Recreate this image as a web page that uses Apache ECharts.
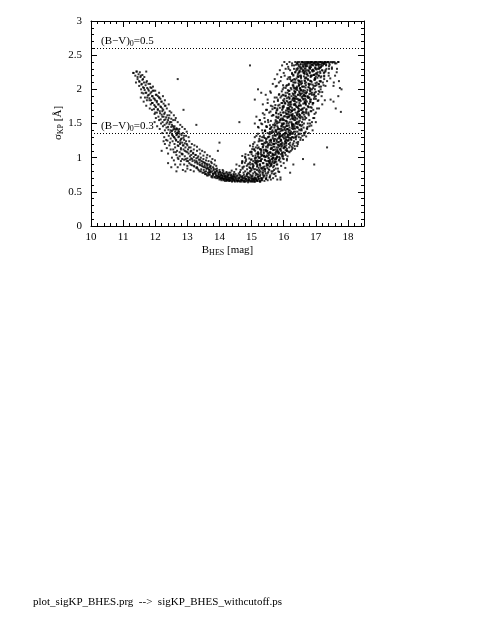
<!DOCTYPE html>
<html>
<head>
<meta charset="utf-8">
<script src="https://cdn.jsdelivr.net/npm/echarts@6/dist/echarts.min.js"></script>
<style>
  html, body { margin: 0; padding: 0; background: #fff; }
  #main { width: 491px; height: 635px; }
</style>
</head>
<body>
<div id="main"></div>
<script>
  // B_HES [mag] vs sigma_KP [A]
  var leftBranch = [
    [11.32,2.24],[11.42,2.26],[11.45,2.18],[11.5,2.12],[11.55,2.2],[11.58,2.08],[11.62,2.15],[11.65,2.02],[11.7,1.95],[11.72,2.1],
    [11.75,1.88],[11.78,2.0],[11.8,1.92],[11.82,1.84],[11.85,2.03],[11.88,1.96],[11.9,1.8],[11.92,1.9],[11.95,1.98],[11.98,1.86],
    [12.0,1.75],[12.02,1.92],[12.05,1.83],[12.08,1.7],[12.1,1.78],[12.12,1.88],[12.15,1.65],[12.18,1.74],[12.2,1.82],[12.22,1.6],
    [12.25,1.7],[12.28,1.55],[12.3,1.66],[12.32,1.76],[12.35,1.5],[12.38,1.62],[12.4,1.45],[12.42,1.58],[12.45,1.68],[12.48,1.4],
    [12.5,1.52],[12.52,1.35],[12.55,1.46],[12.58,1.3],[12.6,1.42],[12.62,1.55],[12.65,1.25],[12.68,1.36],[12.7,1.18],[12.72,1.3],
    [12.75,1.42],[12.78,1.22],[12.8,1.12],[12.82,1.28],[12.85,1.05],[12.88,1.18],[12.9,1.32],[12.92,1.1],[12.95,0.98],[12.98,1.2],
    [13.0,1.08],[13.02,0.95],[13.05,1.15],[13.08,1.02],[13.1,0.9],[13.12,1.1],[13.15,0.98],[13.18,1.06],[13.2,0.88],[13.22,0.96],
    [13.25,1.04],[13.28,0.85],[13.3,0.93],[13.32,1.0],[13.35,0.82],[13.38,0.9],[13.4,0.97],[13.42,0.8],[13.45,0.88],[13.48,0.94],
    [13.5,0.78],[13.52,0.86],[13.55,0.92],[13.58,0.76],[13.6,0.84],[13.62,0.9],[13.65,0.74],[13.68,0.82],[13.7,0.78],[13.72,0.88],
    [13.75,0.72],[13.78,0.8],[13.8,0.76],[13.82,0.84],[13.85,0.71],[13.88,0.78],[13.9,0.74],[13.92,0.81],[13.95,0.7],[13.98,0.76],
    [14.0,0.72],[14.02,0.79],[14.05,0.69],[14.08,0.74],[14.1,0.7],[14.12,0.77],[14.15,0.68],[14.18,0.72]
  ];
  var floorPoints = [
    [13.9,0.7],[13.95,0.73],[14.0,0.68],[14.05,0.75],[14.08,0.7],[14.12,0.67],[14.16,0.73],[14.2,0.69],[14.22,0.66],[14.25,0.72],
    [14.28,0.68],[14.3,0.75],[14.33,0.67],[14.36,0.7],[14.4,0.66],[14.42,0.73],[14.45,0.68],[14.48,0.65],[14.5,0.71],[14.53,0.67],
    [14.56,0.74],[14.58,0.66],[14.6,0.69],[14.64,0.65],[14.66,0.72],[14.7,0.67],[14.74,0.7],[14.76,0.65],[14.8,0.68],[14.84,0.66],
    [14.88,0.72],[14.92,0.67],[14.96,0.65],[14.99,0.7],[15.02,0.66],[15.05,0.69],[15.09,0.65],[15.12,0.68],[15.17,0.66],[15.21,0.69],
    [15.26,0.65],[15.3,0.67]
  ];
  var rightLower = [
    [14.55,0.66],[14.62,0.7],[14.68,0.67],[14.72,0.73],[14.78,0.65],[14.82,0.69],[14.86,0.76],[14.9,0.66],[14.94,0.71],[14.97,0.8],
    [15.0,0.68],[15.03,0.74],[15.06,0.65],[15.08,0.83],[15.1,0.7],[15.13,0.77],[15.16,0.67],[15.18,0.88],[15.2,0.72],[15.22,0.8],
    [15.25,0.66],[15.27,0.75],[15.3,0.85],[15.32,0.7],[15.35,0.78],[15.37,0.92],[15.4,0.74],[15.42,0.83],[15.45,0.69],[15.47,0.88],
    [15.5,0.77],[15.52,0.95],[15.55,0.82],[15.57,0.72],[15.6,0.9],[15.62,0.8],[15.65,0.98],[15.67,0.86],[15.7,0.76],[15.72,0.93],
    [15.75,0.84],[15.78,1.0],[15.8,0.9],[15.83,0.8],[15.86,0.97],[15.9,0.68],[15.92,0.88],[15.95,1.02],[16.0,0.92],[16.05,0.85],
    [16.1,0.98],[16.2,0.78],[16.3,0.9],[15.15,0.95],[15.05,0.9],[14.95,0.85],[15.25,1.0]
  ];
  var rightMiddle = [
    [15.0,1.05],[15.08,1.12],[15.12,1.0],[15.18,1.18],[15.2,1.08],[15.25,1.25],[15.28,1.12],[15.3,1.02],[15.33,1.3],[15.35,1.16],
    [15.38,1.06],[15.4,1.22],[15.42,1.4],[15.45,1.1],[15.47,1.28],[15.5,1.02],[15.52,1.18],[15.55,1.35],[15.57,1.08],[15.6,1.25],
    [15.62,1.45],[15.64,1.14],[15.66,1.32],[15.68,1.04],[15.7,1.2],[15.72,1.5],[15.74,1.12],[15.76,1.38],[15.78,1.26],[15.8,1.08],
    [15.82,1.44],[15.84,1.18],[15.86,1.32],[15.88,1.55],[15.9,1.12],[15.92,1.25],[15.94,1.4],[15.96,1.06],[15.98,1.3],[16.0,1.5],
    [16.02,1.16],[16.04,1.36],[16.06,1.24],[16.08,1.6],[16.1,1.1],[16.12,1.42],[16.14,1.3],[16.16,1.2],[16.18,1.52],[16.2,1.36],
    [16.22,1.66],[16.24,1.26],[16.26,1.46],[16.28,1.14],[16.3,1.58],[16.32,1.38],[16.34,1.7],[16.36,1.3],[16.38,1.5],[16.4,1.22],
    [16.42,1.62],[16.44,1.44],[16.46,1.34],[16.48,1.68],[16.5,1.54],[16.52,1.4],[16.55,1.6],[16.58,1.48],[16.6,1.66],[16.63,1.36],
    [16.66,1.56],[16.7,1.7],[16.74,1.45],[16.78,1.62],[16.82,1.5],[16.86,1.68],[16.9,1.4],[16.95,1.58],[17.0,1.52],
    [15.1,1.3],[15.2,1.45],[15.25,1.55],[15.35,1.65],[15.15,1.6],[15.3,1.5],[15.45,1.7],[15.05,1.2],[14.95,1.08]
  ];
  var rightUpper = [
    [15.5,1.8],[15.6,1.95],[15.65,1.75],[15.72,1.88],[15.78,2.05],[15.8,1.72],[15.85,1.92],[15.9,2.12],[15.93,1.8],[15.97,2.0],
    [16.0,1.76],[16.03,2.2],[16.06,1.9],[16.1,2.06],[16.12,1.82],[16.15,2.3],[16.18,1.98],[16.2,2.15],[16.23,1.78],[16.26,2.35],
    [16.28,1.94],[16.3,2.1],[16.33,1.86],[16.36,2.25],[16.38,2.02],[16.4,1.74],[16.42,2.38],[16.44,1.92],[16.46,2.18],[16.48,2.06],
    [16.5,1.84],[16.52,2.3],[16.54,1.98],[16.56,2.12],[16.58,2.4],[16.6,1.9],[16.62,2.24],[16.64,2.04],[16.66,2.36],[16.68,1.8],
    [16.7,2.16],[16.72,1.96],[16.74,2.4],[16.76,2.28],[16.78,2.08],[16.8,1.88],[16.82,2.34],[16.84,2.2],[16.86,2.4],[16.88,2.0],
    [16.9,2.26],[16.92,2.38],[16.94,1.92],[16.96,2.14],[16.98,2.32],[17.0,2.4],[17.02,2.06],[17.04,2.22],[17.06,2.36],[17.08,1.84],
    [17.1,2.3],[17.12,2.4],[17.15,2.12],[17.18,2.34],[17.2,1.96],[17.22,2.38],[17.25,2.24],[17.28,2.4],[17.3,2.05],[17.33,2.3],
    [17.36,2.4],[17.4,2.2],[17.43,2.36],[17.46,1.85],[17.5,2.3],[17.53,2.4],[17.56,2.1],[17.6,2.38],[17.65,2.25],[17.7,2.4],
    [17.75,2.02]
  ];
  // denser fill, flat x,y lists per region
  var floorFill = [
    14.02,0.70, 14.06,0.67, 14.1,0.73, 14.13,0.69, 14.17,0.66, 14.2,0.71, 14.23,0.68, 14.26,0.74, 14.29,0.66, 14.31,0.7,
    14.34,0.67, 14.37,0.72, 14.39,0.65, 14.42,0.69, 14.44,0.76, 14.47,0.66, 14.49,0.7, 14.51,0.68, 14.54,0.73, 14.56,0.65,
    14.58,0.67, 14.61,0.71, 14.63,0.66, 14.65,0.74, 14.67,0.68, 14.69,0.65, 14.71,0.7, 14.73,0.67, 14.75,0.78, 14.77,0.66,
    14.79,0.72, 14.81,0.65, 14.83,0.69, 14.85,0.75, 14.87,0.67, 14.89,0.64, 14.91,0.71, 14.93,0.68, 14.95,0.8, 14.97,0.66,
    14.99,0.73, 15.01,0.65, 15.03,0.69, 15.05,0.77, 15.07,0.67, 15.09,0.71, 15.11,0.65, 15.13,0.74, 15.15,0.68, 15.17,0.82,
    15.19,0.66, 15.21,0.72, 15.23,0.69, 15.25,0.78, 15.27,0.65, 15.29,0.7, 15.31,0.84, 15.33,0.67, 15.35,0.75, 15.37,0.71,
    15.4,0.66, 15.42,0.8, 15.45,0.69, 15.47,0.74, 15.5,0.67, 15.53,0.83, 15.56,0.71, 15.6,0.68, 15.63,0.77, 15.67,0.7,
    15.7,0.82, 15.75,0.73, 15.8,0.68, 15.86,0.79, 15.9,0.71,
    14.3,0.78, 14.38,0.81, 14.46,0.79, 14.52,0.83, 14.6,0.77, 14.66,0.82, 14.72,0.84, 14.8,0.8, 14.86,0.83, 14.92,0.77,
    15.0,0.82, 15.04,0.85, 15.1,0.79, 15.16,0.76, 15.22,0.85, 15.28,0.8, 15.34,0.78, 15.39,0.84, 15.44,0.77, 15.52,0.79,
    14.45,0.72, 14.55,0.7, 14.62,0.75, 14.7,0.72, 14.78,0.7, 14.84,0.73, 14.9,0.69, 14.96,0.75, 15.02,0.72, 15.08,0.68,
    15.14,0.7, 15.2,0.75, 15.26,0.73, 15.32,0.69, 15.38,0.73, 15.46,0.71, 15.58,0.74, 15.66,0.8, 15.74,0.77, 15.82,0.84,
    14.24,0.77, 14.36,0.75, 14.5,0.76, 14.64,0.79, 14.76,0.75, 14.88,0.78, 14.98,0.84, 15.12,0.83, 15.24,0.82, 15.36,0.81
  ];
  var riseFill = [
    14.62,0.88, 14.7,0.92, 14.76,0.87, 14.82,0.95, 14.88,0.9, 14.93,0.86, 14.98,0.97, 15.02,0.91, 15.06,0.88, 15.1,0.99,
    15.13,0.93, 15.17,0.87, 15.2,1.02, 15.23,0.95, 15.26,0.9, 15.29,1.05, 15.32,0.98, 15.35,0.92, 15.38,1.08, 15.4,0.87,
    15.43,1.01, 15.46,0.95, 15.49,1.1, 15.51,0.89, 15.54,1.04, 15.57,0.97, 15.6,1.13, 15.62,0.91, 15.65,1.06, 15.68,1.0,
    15.71,1.16, 15.73,0.94, 15.76,1.09, 15.79,1.02, 15.82,1.19, 15.85,0.96, 15.88,1.12, 15.91,1.05, 15.94,1.2, 15.97,0.99,
    16.0,1.14, 16.04,1.07, 16.08,1.18, 16.12,1.02, 16.17,1.15, 16.22,1.1, 16.28,1.19, 16.35,1.13, 16.42,1.17,
    14.8,1.0, 14.9,1.04, 15.0,1.08, 15.08,1.12, 15.15,1.06, 15.22,1.15, 15.3,1.12, 15.37,1.18, 15.45,1.16, 15.52,1.2,
    15.05,0.95, 15.12,1.03, 15.18,0.96, 15.25,1.0, 15.33,1.03, 15.41,0.97, 15.47,1.03, 15.55,0.93, 15.58,1.07, 15.63,0.98,
    15.67,1.11, 15.72,1.04, 15.77,0.99, 15.8,1.12, 15.84,1.06, 15.87,1.17, 15.92,1.1, 15.96,1.04, 16.02,1.19, 16.06,1.11,
    14.72,0.86, 14.85,0.88, 14.95,0.93, 15.04,0.87, 15.15,0.91, 15.27,0.88, 15.36,0.86, 15.48,0.9, 15.6,0.88, 15.7,0.92,
    15.78,0.9, 15.9,0.94, 16.0,0.98, 16.1,0.96, 15.53,0.99, 15.66,0.95, 15.74,1.07, 15.86,1.01, 15.99,1.08, 16.15,1.09,
    15.28,0.95, 15.39,1.02, 15.5,1.06, 15.61,1.02, 15.83,1.15, 15.93,1.16, 16.1,1.13, 16.25,1.16, 15.44,1.12, 15.35,1.15
  ];
  var midFill = [
    15.62,1.22, 15.7,1.25, 15.76,1.21, 15.81,1.28, 15.85,1.23, 15.89,1.31, 15.92,1.26, 15.95,1.22, 15.98,1.34, 16.01,1.28,
    16.04,1.24, 16.07,1.37, 16.1,1.3, 16.13,1.25, 16.16,1.4, 16.19,1.33, 16.22,1.27, 16.25,1.43, 16.28,1.35, 16.31,1.29,
    16.34,1.46, 16.37,1.38, 16.4,1.32, 16.44,1.49, 16.48,1.41, 16.52,1.35, 16.57,1.52, 16.62,1.44, 16.68,1.38, 16.75,1.5,
    15.72,1.33, 15.78,1.37, 15.84,1.42, 15.88,1.35, 15.93,1.46, 15.97,1.4, 16.0,1.5, 16.03,1.43, 16.06,1.54, 16.09,1.47,
    16.12,1.58, 16.15,1.5, 16.18,1.44, 16.21,1.56, 16.24,1.52, 16.27,1.6, 16.3,1.48, 16.33,1.55, 16.36,1.59, 16.39,1.51,
    16.42,1.57, 16.46,1.53, 16.5,1.59, 16.55,1.46, 16.6,1.56, 16.66,1.6, 16.72,1.43, 16.8,1.55, 16.86,1.47, 16.92,1.58,
    15.3,1.25, 15.38,1.3, 15.45,1.27, 15.5,1.36, 15.55,1.31, 15.58,1.42, 15.63,1.38, 15.67,1.48, 15.71,1.44, 15.75,1.55,
    15.79,1.5, 15.83,1.58, 15.87,1.52, 15.91,1.57, 15.96,1.55, 16.04,1.35, 16.08,1.26, 16.14,1.34, 16.2,1.22, 16.26,1.3,
    16.32,1.24, 16.38,1.27, 16.45,1.23, 16.53,1.29, 16.6,1.26, 16.7,1.31, 16.78,1.36, 15.15,1.32, 15.22,1.44, 15.1,1.5,
    15.26,1.55, 15.33,1.49, 15.4,1.58, 15.47,1.45, 15.52,1.52, 15.42,1.39, 15.35,1.36, 15.6,1.25, 15.66,1.29, 15.9,1.24,
    16.02,1.21, 16.11,1.42, 16.17,1.29, 16.23,1.38, 16.29,1.42, 16.35,1.34, 16.41,1.45, 16.47,1.3, 16.56,1.4, 16.64,1.33,
    15.74,1.4, 15.8,1.46, 15.86,1.29, 15.94,1.32, 15.99,1.45, 16.05,1.3, 16.16,1.47, 16.26,1.48, 16.43,1.38, 16.51,1.48
  ];
  var upperFill = [
    15.92,1.62, 15.98,1.66, 16.03,1.61, 16.07,1.69, 16.1,1.64, 16.13,1.72, 16.16,1.67, 16.19,1.62, 16.22,1.75, 16.25,1.69,
    16.28,1.64, 16.31,1.78, 16.34,1.71, 16.37,1.66, 16.4,1.81, 16.43,1.74, 16.46,1.68, 16.49,1.84, 16.52,1.77, 16.55,1.7,
    16.58,1.87, 16.61,1.79, 16.64,1.73, 16.68,1.9, 16.72,1.82, 16.76,1.75, 16.8,1.93, 16.85,1.85, 16.9,1.78, 16.96,1.95,
    16.0,1.74, 16.05,1.79, 16.09,1.83, 16.14,1.77, 16.18,1.86, 16.21,1.81, 16.24,1.9, 16.27,1.84, 16.3,1.93, 16.33,1.87,
    16.36,1.96, 16.39,1.89, 16.42,1.99, 16.45,1.92, 16.48,1.97, 16.51,1.91, 16.54,1.99, 16.57,1.94, 16.6,1.97, 16.63,1.92,
    16.66,1.98, 16.7,1.95, 16.74,1.99, 16.78,1.88, 16.83,1.97, 16.88,1.92, 16.94,1.86, 17.0,1.9, 17.06,1.83, 17.12,1.96,
    15.4,1.63, 15.48,1.7, 15.55,1.66, 15.6,1.76, 15.65,1.71, 15.7,1.82, 15.74,1.77, 15.78,1.88, 15.82,1.83, 15.86,1.93,
    15.9,1.88, 15.94,1.97, 15.97,1.92, 15.5,1.85, 15.35,1.78, 15.44,1.92, 15.58,1.97, 15.68,1.62, 15.76,1.66, 15.84,1.64,
    16.5,1.62, 16.57,1.65, 16.63,1.63, 16.7,1.67, 16.77,1.64, 16.84,1.68, 16.92,1.7, 17.0,1.66, 17.1,1.72, 17.2,1.78,
    17.28,1.84, 17.18,1.9, 16.12,1.95, 16.06,1.91, 16.02,1.86, 15.96,1.8, 15.88,1.73, 15.8,1.7, 15.72,1.73, 16.15,1.6,
    16.24,1.62, 16.33,1.61, 16.41,1.63, 16.47,1.76, 16.53,1.83, 16.59,1.72, 16.65,1.81, 16.71,1.71, 16.79,1.79, 16.87,1.73,
    16.2,1.7, 16.26,1.73, 16.32,1.83, 16.38,1.76, 16.44,1.86, 16.56,1.89, 16.62,1.86, 16.69,1.84, 16.75,1.9, 16.82,1.82
  ];
  var topFill = [
    16.22,2.02, 16.28,2.06, 16.33,2.01, 16.37,2.1, 16.41,2.04, 16.45,2.13, 16.48,2.07, 16.51,2.02, 16.54,2.16, 16.57,2.09,
    16.6,2.04, 16.63,2.19, 16.66,2.12, 16.69,2.06, 16.72,2.22, 16.75,2.15, 16.78,2.08, 16.81,2.25, 16.84,2.18, 16.87,2.11,
    16.9,2.28, 16.93,2.21, 16.96,2.14, 16.99,2.31, 17.02,2.24, 17.05,2.17, 17.09,2.33, 17.13,2.26, 17.17,2.19, 17.22,2.35,
    16.3,2.2, 16.36,2.25, 16.4,2.3, 16.44,2.22, 16.47,2.34, 16.5,2.27, 16.53,2.37, 16.56,2.3, 16.59,2.4, 16.62,2.33,
    16.65,2.38, 16.68,2.31, 16.71,2.4, 16.74,2.34, 16.77,2.39, 16.8,2.32, 16.83,2.4, 16.86,2.36, 16.89,2.4, 16.92,2.35,
    16.95,2.39, 16.98,2.37, 17.01,2.4, 17.04,2.38, 17.07,2.4, 17.1,2.36, 17.14,2.4, 17.18,2.38, 17.21,2.4, 17.25,2.37,
    17.29,2.4, 17.33,2.39, 17.37,2.4, 17.42,2.38, 17.47,2.4, 17.52,2.39, 17.58,2.4, 17.64,2.38, 17.7,2.4, 16.26,2.38,
    16.18,2.4, 16.1,2.37, 16.02,2.4, 15.95,2.35, 15.88,2.28, 15.8,2.22, 15.72,2.15, 15.66,2.08, 15.75,2.04, 15.85,2.1,
    15.92,2.18, 16.0,2.24, 16.06,2.3, 16.12,2.15, 16.16,2.08, 16.2,2.28, 16.24,2.12, 16.06,2.02, 15.98,2.06, 16.14,2.33,
    17.26,2.2, 17.3,2.28, 17.35,2.12, 17.4,2.24, 17.45,2.16, 17.5,2.32, 17.55,2.05, 17.6,2.2, 17.66,2.3, 17.72,2.12,
    16.4,2.16, 16.46,2.24, 16.52,2.1, 16.58,2.26, 16.64,2.24, 16.7,2.28, 16.76,2.2, 16.82,2.3, 16.88,2.2, 16.94,2.27,
    17.0,2.19, 17.06,2.3, 17.12,2.12, 17.19,2.28, 17.24,2.06, 17.16,2.04, 17.08,2.08, 16.98,2.05, 16.92,2.02, 16.78,2.03,
    16.6,2.36, 16.66,2.4, 16.72,2.37, 16.78,2.4, 16.84,2.38, 16.9,2.36, 16.96,2.4, 17.02,2.36, 17.08,2.38, 17.16,2.36,
    17.24,2.39, 17.32,2.36, 17.4,2.4, 16.48,2.4, 16.42,2.38, 16.36,2.4, 16.55,2.4
  ];
  var coreFill = [
    15.18,0.9, 15.33,0.84, 15.29,0.97, 15.47,0.91, 15.39,1.02, 15.58,0.95, 15.52,1.07, 15.66,1.0, 15.44,1.11, 15.75,1.05,
    15.61,1.14, 15.83,1.09, 15.7,1.2, 15.9,1.13, 15.78,1.24, 16.03,1.16, 15.87,1.28, 16.08,1.22, 15.96,1.33, 16.16,1.26,
    15.85,1.37, 16.13,1.32, 16.02,1.41, 16.24,1.35, 15.93,1.46, 16.19,1.4, 16.09,1.5, 16.33,1.43, 16.01,1.55, 16.27,1.49,
    16.17,1.6, 16.41,1.52, 16.08,1.64, 16.36,1.58, 16.25,1.68, 16.5,1.62, 16.16,1.73, 16.44,1.67, 16.33,1.77, 16.58,1.71,
    16.22,1.82, 16.53,1.76, 16.4,1.86, 16.66,1.8, 16.31,1.91, 16.61,1.85, 16.49,1.95, 16.74,1.89, 16.38,2.0, 16.69,1.94,
    16.57,2.04, 16.82,1.98, 16.46,2.09, 16.77,2.03, 16.65,2.13, 16.9,2.07, 16.54,2.18, 16.85,2.12, 16.73,2.22, 16.98,2.16,
    16.62,2.27, 16.94,2.21, 16.81,2.31, 17.06,2.25, 16.7,2.34, 17.02,2.29, 16.88,2.36, 17.14,2.32, 16.78,2.27, 17.1,2.2,
    15.56,0.87, 15.64,0.93, 15.72,0.97, 15.8,1.01, 15.95,1.07, 16.1,1.1, 16.2,1.18, 16.3,1.21, 16.38,1.3, 16.47,1.35,
    16.55,1.42, 16.63,1.5, 16.7,1.58, 16.77,1.66, 16.84,1.74, 16.92,1.8, 17.0,1.86, 17.08,1.93, 17.15,2.0, 17.22,2.1,
    15.1,0.93, 15.14,1.0, 15.22,1.06, 15.3,1.1, 15.36,1.2, 15.45,1.24, 15.52,1.3, 15.58,1.35, 15.65,1.4, 15.72,1.47,
    15.79,1.53, 15.84,1.6, 15.9,1.66, 15.97,1.72, 16.04,1.8, 16.1,1.87, 16.18,1.93, 16.24,2.0, 16.3,2.06, 16.36,2.14,
    16.43,2.19, 16.49,2.26, 16.55,2.32, 16.6,2.39, 16.52,2.36, 16.44,2.31, 16.38,2.36, 16.32,2.3, 16.26,2.24, 16.2,2.18,
    15.42,0.83, 15.49,0.85, 15.62,0.89, 15.7,0.88, 15.77,0.94, 15.88,0.99, 15.98,1.02, 16.06,1.04, 16.18,1.08, 16.26,1.12,
    16.34,1.17, 16.44,1.2, 16.52,1.26, 16.58,1.32, 16.66,1.36, 16.73,1.42, 16.8,1.46, 16.88,1.52, 16.96,1.64, 17.04,1.72,
    15.5,1.15, 15.56,1.22, 15.62,1.18, 15.68,1.27, 15.75,1.32, 15.82,1.35, 15.88,1.42, 15.95,1.48, 16.0,1.6, 16.06,1.66,
    16.12,1.7, 16.19,1.78, 16.28,1.86, 16.35,1.94, 16.42,2.02, 16.48,2.12, 16.54,2.2, 16.6,2.28, 16.68,2.34, 16.74,2.38
  ];
  // broad dense body of the right branch
  var bodyFill = [
    14.53,0.9, 15.26,0.9, 14.96,0.9, 15.57,0.925, 14.79,0.925, 15.15,0.925, 15.53,0.95, 14.71,0.95, 15.29,0.95,
    15.0,0.975, 15.76,0.975, 14.83,0.975, 15.53,1.0, 15.22,1.0, 15.67,1.0, 14.71,1.025, 15.39,1.025, 15.04,1.025,
    15.66,1.05, 15.2,1.05, 14.81,1.05, 15.59,1.075, 15.29,1.075, 15.85,1.075, 15.11,1.1, 15.47,1.1, 15.8,1.1,
    15.02,1.125, 15.6,1.125, 15.26,1.125, 16.06,1.15, 15.13,1.15, 15.78,1.15, 15.5,1.175, 15.95,1.175, 14.95,1.175,
    15.67,1.2, 15.32,1.2, 15.9,1.2, 15.48,1.225, 15.09,1.225, 15.82,1.225, 15.56,1.25, 16.12,1.25, 15.34,1.25,
    15.73,1.275, 16.06,1.275, 15.24,1.275, 15.86,1.3, 15.52,1.3, 16.28,1.3, 15.38,1.325, 16.03,1.325, 15.72,1.325,
    16.2,1.35, 15.2,1.35, 15.88,1.35, 15.57,1.375, 16.15,1.375, 15.69,1.375, 15.33,1.4, 16.06,1.4, 15.76,1.4,
    16.35,1.425, 15.57,1.425, 15.93,1.425, 16.29,1.45, 15.47,1.45, 16.05,1.45, 15.74,1.475, 16.5,1.475, 15.57,1.475,
    16.25,1.5, 15.94,1.5, 16.39,1.5, 15.42,1.525, 16.1,1.525, 15.75,1.525, 16.36,1.55, 15.9,1.55, 15.51,1.55,
    16.26,1.575, 15.96,1.575, 16.52,1.575, 15.77,1.6, 16.13,1.6, 16.46,1.6, 15.67,1.625, 16.25,1.625, 15.91,1.625,
    16.7,1.65, 15.77,1.65, 16.42,1.65, 16.14,1.675, 16.59,1.675, 15.59,1.675, 16.3,1.7, 15.95,1.7, 16.53,1.7,
    16.11,1.725, 15.72,1.725, 16.45,1.725, 16.19,1.75, 16.75,1.75, 15.97,1.75, 16.36,1.775, 16.69,1.775, 15.87,1.775,
    16.49,1.8, 16.15,1.8, 16.91,1.8, 16.01,1.825, 16.66,1.825, 16.35,1.825, 16.82,1.85, 15.82,1.85, 16.5,1.85,
    16.18,1.875, 16.76,1.875, 16.3,1.875, 15.93,1.9, 16.66,1.9, 16.36,1.9, 16.95,1.925, 16.17,1.925, 16.53,1.925,
    16.88,1.95, 16.06,1.95, 16.64,1.95, 16.33,1.975, 17.09,1.975, 16.16,1.975, 16.83,2.0, 16.52,2.0, 16.97,2.0,
    16.0,2.025, 16.68,2.025, 16.33,2.025, 16.93,2.05, 16.47,2.05, 16.08,2.05, 16.84,2.075, 16.54,2.075, 17.1,2.075,
    16.34,2.1, 16.7,2.1, 17.03,2.1, 16.24,2.125, 16.82,2.125, 16.48,2.125, 17.26,2.15, 16.33,2.15, 16.98,2.15,
    16.7,2.175, 17.15,2.175, 16.15,2.175, 16.85,2.2, 16.5,2.2, 17.08,2.2, 16.65,2.225, 16.26,2.225, 16.99,2.225,
    16.71,2.25, 17.27,2.25, 16.49,2.25, 16.88,2.275, 17.21,2.275, 16.39,2.275, 16.99,2.3, 16.65,2.3, 17.41,2.3,
    16.51,2.325, 17.16,2.325, 16.85,2.325, 17.32,2.35, 16.32,2.35, 17.0,2.35, 16.68,2.375, 17.26,2.375, 16.8,2.375,
    16.43,2.4, 17.16,2.4, 16.86,2.4,
    15.55,0.913, 14.91,0.913, 15.19,0.938, 14.71,0.938, 15.42,0.963, 15.11,0.963, 15.74,0.988, 14.93,0.988,
    15.44,1.013, 14.8,1.013, 15.33,1.038, 15.66,1.038, 15.84,1.063, 15.2,1.063, 15.47,1.088, 14.99,1.088,
    15.69,1.113, 15.38,1.113, 16.0,1.138, 15.19,1.138, 15.68,1.163, 15.04,1.163, 15.57,1.188, 15.9,1.188,
    16.07,1.213, 15.43,1.213, 15.7,1.238, 15.22,1.238, 15.91,1.263, 15.6,1.263, 16.22,1.288, 15.41,1.288,
    15.9,1.313, 15.26,1.313, 15.79,1.338, 16.12,1.338, 16.28,1.363, 15.64,1.363, 15.9,1.388, 15.42,1.388,
    16.12,1.413, 15.81,1.413, 16.42,1.438, 15.61,1.438, 16.1,1.463, 15.46,1.463, 15.98,1.488, 16.31,1.488,
    16.47,1.513, 15.83,1.513, 16.08,1.538, 15.6,1.538, 16.29,1.563, 15.98,1.563, 16.59,1.588, 15.78,1.588,
    16.27,1.613, 15.63,1.613, 16.15,1.638, 16.48,1.638, 16.64,1.663, 16.0,1.663, 16.26,1.688, 15.78,1.688,
    16.47,1.713, 16.16,1.713, 16.78,1.738, 15.97,1.738, 16.47,1.763, 15.83,1.763, 16.35,1.788, 16.68,1.788,
    16.84,1.813, 16.2,1.813, 16.46,1.838, 15.98,1.838, 16.67,1.863, 16.36,1.863, 16.96,1.888, 16.15,1.888,
    16.64,1.913, 16.0,1.913, 16.51,1.938, 16.84,1.938, 17.0,1.963, 16.36,1.963, 16.61,1.988, 16.13,1.988,
    16.82,2.013, 16.51,2.013, 17.11,2.038, 16.3,2.038, 16.79,2.063, 16.15,2.063, 16.66,2.088, 16.99,2.088,
    17.15,2.113, 16.51,2.113, 16.76,2.138, 16.28,2.138, 16.97,2.163, 16.66,2.163, 17.26,2.188, 16.45,2.188,
    16.94,2.213, 16.3,2.213, 16.81,2.238, 17.14,2.238, 17.3,2.263, 16.66,2.263, 16.91,2.288, 16.43,2.288,
    17.12,2.313, 16.81,2.313, 17.41,2.338, 16.6,2.338, 17.09,2.363, 16.45,2.363, 16.96,2.388, 17.29,2.388
  ];
  var leftTopFill = [
    11.32,2.24, 11.38,2.2, 11.42,2.26, 11.45,2.15, 11.48,2.22, 11.51,2.11, 11.54,2.18, 11.57,2.07, 11.6,2.14, 11.62,2.03,
    11.65,2.1, 11.67,1.99, 11.7,2.06, 11.72,1.95, 11.75,2.02, 11.77,1.91, 11.8,1.98, 11.82,1.87, 11.85,1.94, 11.87,1.84,
    11.9,1.9, 11.92,1.8, 11.95,1.87, 11.97,1.77, 12.0,1.84, 12.02,1.74, 12.05,1.81, 12.08,1.71, 12.1,1.78, 12.13,1.88,
    12.16,1.75, 12.19,1.82, 12.22,1.72, 12.26,1.79, 11.68,1.88, 11.74,1.84, 11.79,2.08, 11.86,1.78, 11.92,1.98, 12.04,1.92,
    11.56,2.0, 11.63,1.94, 11.4,2.1, 11.52,2.25, 11.83,1.72, 12.12,1.95, 11.96,1.71, 12.3,1.76, 11.88,2.02, 11.6,2.21
  ];
  var leftMidFill = [
    12.05,1.66, 12.1,1.6, 12.14,1.68, 12.17,1.56, 12.2,1.63, 12.23,1.52, 12.26,1.6, 12.29,1.48, 12.32,1.56, 12.35,1.44,
    12.38,1.52, 12.41,1.41, 12.44,1.49, 12.47,1.37, 12.5,1.45, 12.53,1.33, 12.56,1.41, 12.59,1.3, 12.62,1.38, 12.65,1.26,
    12.68,1.34, 12.71,1.23, 12.74,1.31, 12.77,1.2, 12.8,1.27, 12.84,1.22, 12.88,1.29, 12.92,1.21,
    12.22,1.68, 12.28,1.64, 12.34,1.59, 12.4,1.55, 12.46,1.52, 12.52,1.48, 12.58,1.44, 12.64,1.41, 12.7,1.37, 12.76,1.35,
    12.82,1.33, 12.55,1.32, 12.6,1.46, 12.66,1.43, 12.72,1.4, 12.68,1.42, 12.74,1.38, 12.62,1.28, 12.48,1.28, 12.42,1.32,
    12.36,1.36, 12.3,1.4, 12.24,1.46, 12.18,1.5, 12.12,1.55, 12.02,1.58, 11.98,1.64, 12.44,1.62, 12.5,1.57, 12.56,1.55,
    12.38,1.25, 12.46,1.22, 12.54,1.24, 12.6,1.2, 12.86,1.36, 12.9,1.26, 12.96,1.24, 12.78,1.25, 12.66,1.33, 12.52,1.39
  ];
  var leftLowFill = [
    12.62,1.15, 12.68,1.1, 12.72,1.17, 12.76,1.08, 12.8,1.14, 12.84,1.05, 12.88,1.12, 12.92,1.02, 12.96,1.09, 13.0,0.99,
    13.04,1.06, 13.08,0.97, 13.12,1.04, 13.16,0.95, 13.2,1.01, 13.24,0.93, 13.28,0.99, 13.32,0.91, 13.36,0.97, 13.4,0.89,
    13.44,0.95, 13.48,0.87, 13.52,0.93, 13.56,0.86, 13.6,0.91, 13.64,0.85, 13.68,0.9, 13.72,0.87, 13.76,0.92, 13.8,0.86,
    12.86,1.18, 12.94,1.15, 13.02,1.12, 13.1,1.09, 13.18,1.07, 13.26,1.04, 13.34,1.02, 13.42,1.0, 13.5,0.98, 13.58,0.96,
    13.66,0.95, 13.74,0.94, 13.84,0.9, 13.9,0.88, 12.7,1.0, 12.8,0.95, 12.9,0.9, 13.0,0.88, 13.06,0.92, 12.98,0.95,
    13.14,0.89, 13.22,0.87, 13.3,0.86, 12.76,1.02, 12.84,0.98, 13.38,0.93, 13.46,0.91, 13.54,0.89, 13.62,0.88, 13.7,0.86,
    12.58,1.08, 12.66,1.04, 13.1,1.15, 13.2,1.12, 13.3,1.1, 13.4,1.06, 13.5,1.03, 13.6,1.0, 13.12,0.99, 13.28,0.95
  ];
  var leftFloorFill = [
    13.32,0.84, 13.38,0.8, 13.43,0.83, 13.47,0.78, 13.51,0.82, 13.55,0.76, 13.58,0.8, 13.61,0.74, 13.64,0.78, 13.67,0.83,
    13.7,0.75, 13.73,0.79, 13.76,0.73, 13.79,0.77, 13.82,0.82, 13.85,0.72, 13.88,0.76, 13.91,0.8, 13.94,0.71, 13.97,0.75,
    14.0,0.79, 14.03,0.7, 14.06,0.74, 14.09,0.78, 14.12,0.69, 14.15,0.73, 14.18,0.77, 14.21,0.68, 14.24,0.72, 14.27,0.75,
    14.3,0.68, 14.33,0.71, 14.36,0.74, 14.39,0.68, 14.42,0.7, 14.45,0.67, 14.48,0.73, 13.6,0.84, 13.68,0.79, 13.74,0.84,
    13.8,0.74, 13.86,0.79, 13.92,0.84, 13.98,0.72, 14.04,0.77, 14.1,0.82, 14.16,0.7, 14.22,0.79, 14.28,0.71, 14.34,0.78,
    14.4,0.72, 13.84,0.77, 13.9,0.73, 13.96,0.78, 14.02,0.73, 14.08,0.71, 14.14,0.76, 14.2,0.74, 14.26,0.69, 14.32,0.66,
    14.38,0.7, 14.44,0.75, 13.72,0.81, 13.78,0.71, 13.88,0.83, 13.54,0.79, 13.66,0.76, 14.0,0.82, 14.12,0.8, 14.24,0.67
  ];
  var leftSpread = [
    11.5,2.05, 11.58,1.95, 11.66,2.18, 11.74,2.12, 11.84,2.08, 11.93,2.04, 12.0,1.98, 11.55,1.88, 11.64,1.82, 11.72,1.76,
    11.9,1.7, 12.0,1.66, 12.08,1.9, 12.16,1.86, 12.24,1.9, 12.3,1.84, 12.36,1.72, 12.42,1.78, 11.98,1.52, 12.06,1.46,
    12.14,1.42, 12.22,1.36, 12.28,1.3, 12.5,1.66, 12.58,1.62, 12.64,1.58, 12.7,1.52, 12.78,1.48, 12.84,1.45, 12.92,1.42,
    12.3,1.2, 12.36,1.14, 12.4,1.06, 12.48,1.12, 12.52,1.0, 12.58,0.96, 12.62,0.9, 12.7,0.86, 12.78,0.9, 12.86,0.82,
    12.94,0.8, 13.0,0.84, 12.44,1.18, 12.56,1.12, 12.64,1.08, 12.72,0.98, 12.82,1.06, 12.9,0.97, 13.0,1.18, 13.06,1.24,
    13.14,1.2, 13.22,1.18, 13.3,1.16, 13.38,1.12, 13.46,1.1, 13.54,1.08, 13.62,1.04, 13.7,1.02, 13.78,0.98, 13.86,0.96,
    12.96,1.32, 13.04,1.3, 12.98,1.38, 12.4,0.92, 12.5,0.86, 12.66,0.8, 13.1,0.82, 13.2,0.8, 12.34,1.26, 12.26,1.24
  ];
  var outliers = [
    [14.95,2.35],[12.7,2.15],[11.72,2.26],[12.88,1.7],[13.28,1.48],[14.62,1.52],[17.35,1.15],[16.95,0.9],[17.78,1.67],[17.62,1.72],
    [15.2,2.0],[14.0,1.22],[13.95,1.1],[15.1,1.85],[15.3,1.95],[17.8,2.0],[17.7,1.9],[17.55,1.82],[12.2,1.1],[16.6,0.98]
  ];
  var cutLevels = [2.6, 1.36];
  var cutLabels = ['(B\u2212V){sub|0}=0.5', '(B\u2212V){sub|0}=0.3'];
  var yTitle = '\u03c3{sub|KP} [\u00c5]';
  var footerText = 'plot_sigKP_BHES.prg  -->  sigKP_BHES_withcutoff.ps';

  var FONT = 'Liberation Serif';

  function pairs(flat) {
    var out = [];
    for (var i = 0; i + 1 < flat.length; i += 2) out.push([flat[i], flat[i + 1]]);
    return out;
  }

  var allPoints = leftBranch.concat(floorPoints, rightLower, rightMiddle, rightUpper,
    pairs(floorFill), pairs(riseFill), pairs(midFill), pairs(upperFill), pairs(topFill), pairs(coreFill), pairs(bodyFill),
    pairs(leftTopFill), pairs(leftMidFill), pairs(leftLowFill), pairs(leftFloorFill), pairs(leftSpread), outliers);

  var chart = echarts.init(document.getElementById('main'));

  function frameAxis(pos, showLabel) {
    return {
      type: 'value',
      position: pos,
      axisLine: { onZero: false, lineStyle: { color: '#000', width: 1 } },
      axisTick: { inside: true, length: 6, lineStyle: { color: '#000', width: 1 } },
      minorTick: { show: true, splitNumber: 5, length: 3, lineStyle: { color: '#000', width: 1 } },
      splitLine: { show: false },
      axisLabel: { show: showLabel, color: '#000', fontFamily: FONT, fontSize: 11, showMaxLabel: false }
    };
  }

  var subStyle = { fontFamily: FONT, fontSize: 8, verticalAlign: 'bottom', padding: [6, 0, 0, 0] };

  var xb = frameAxis('bottom', true);
  xb.min = 10; xb.max = 18.5; xb.interval = 1;
  xb.axisLabel.margin = 6;
  xb.name = 'B{sub|HES} [mag]';
  xb.nameLocation = 'middle';
  xb.nameGap = 17;
  xb.nameTextStyle = { color: '#000', fontFamily: FONT, fontSize: 11, rich: { sub: subStyle } };
  var xt = frameAxis('top', false);
  xt.min = 10; xt.max = 18.5; xt.interval = 1;

  var yl = frameAxis('left', true);
  yl.min = 0; yl.max = 3; yl.interval = 0.5;
  yl.axisLabel.margin = 9;
  yl.axisLabel.showMaxLabel = true;
  var yr = frameAxis('right', false);
  yr.min = 0; yr.max = 3; yr.interval = 0.5;

  var option = {
    animation: false,
    backgroundColor: '#fff',
    grid: { left: 91, top: 21, width: 273, height: 205 },
    xAxis: [xb, xt],
    yAxis: [yl, yr],
    series: [{
      type: 'scatter',
      xAxisIndex: 0,
      yAxisIndex: 0,
      symbol: 'rect',
      symbolSize: 2,
      itemStyle: { color: '#000' },
      data: allPoints,
      markLine: {
        silent: true,
        symbol: 'none',
        lineStyle: { type: [1, 2], color: '#000', width: 1 },
        label: {
          position: 'insideStartTop',
          distance: [10, 0],
          color: '#000',
          fontFamily: FONT,
          fontSize: 11,
          rich: { sub: subStyle }
        },
        data: cutLevels.map(function (v, i) {
          return { yAxis: v, label: { formatter: cutLabels[i] } };
        })
      }
    }],
    graphic: [{
      type: 'text',
      x: 58,
      y: 123,
      rotation: Math.PI / 2,
      style: {
        text: yTitle,
        fill: '#000',
        font: '11px "' + FONT + '"',
        align: 'center',
        verticalAlign: 'middle',
        rich: { sub: subStyle }
      }
    }, {
      type: 'text',
      left: 33,
      top: 597,
      style: { text: footerText, fill: '#000', font: '11px "' + FONT + '"' }
    }]
  };
  chart.setOption(option);
</script>
</body>
</html>
